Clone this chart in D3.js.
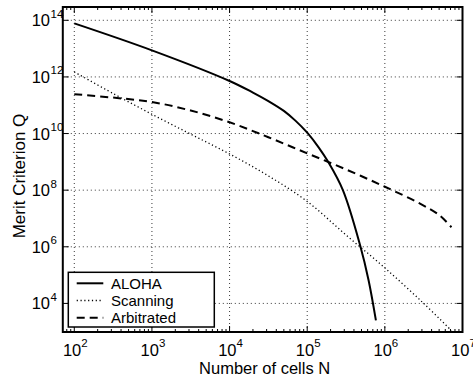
<!DOCTYPE html>
<html>
<head>
<meta charset="utf-8">
<script src="https://cdn.jsdelivr.net/npm/d3@7"></script>
<style>
  html, body { margin: 0; padding: 0; background: #fff; }
  svg { display: block; font-family: "Liberation Sans", Arial, Helvetica, sans-serif; }
</style>
</head>
<body>
<svg id="chart" width="473" height="377"></svg>
<script>
// Number of cells N and merit criterion Q for each scheme
const cellsAloha = [1e2, 1e3, 1e4, 2.0e4, 3.16e4, 5.0e4, 7.1e4, 1e5, 1.41e5, 1.86e5, 2.88e5, 4.79e5, 6.17e5, 7.67e5];
const meritAloha = [7.8e13, 8.7e12, 7.2e11, 2.8e11, 1.4e11, 6.3e10, 2.8e10, 1.07e10, 3.2e9, 1.0e9, 1.0e8, 1.15e6, 6.6e4, 2.5e3];

const cellsScanning = [1e2, 3.16e2, 1e3, 3.16e3, 1e4, 3.16e4, 1e5, 3.16e5, 1e6, 3.16e6, 7.2e6];
const meritScanning = [1.5e12, 2.6e11, 4.8e10, 9.5e9, 1.9e9, 3.2e8, 4.0e7, 2.6e6, 1.8e5, 1.0e4, 1.1e3];

const cellsArbitrated = [1e2, 3.16e2, 1e3, 3.16e3, 1e4, 3.16e4, 1e5, 3.16e5, 1e6, 2.8e6, 5.0e6, 7.2e6];
const meritArbitrated = [2.45e11, 1.86e11, 1.3e11, 6.5e10, 2.5e10, 7.4e9, 2.0e9, 5.4e8, 1.32e8, 3.4e7, 1.32e7, 4.9e6];

const seriesNames = ["ALOHA", "Scanning", "Arbitrated"];

// Axis ticks
const xTickExponents = [2, 3, 4, 5, 6, 7];
const yTickExponents = [4, 6, 8, 10, 12, 14];

const svg = d3.select("#chart");

const plotLeft = 62.8, plotRight = 462.5, plotTop = 7, plotBottom = 332;

const x = d3.scaleLog().domain([Math.pow(10, 1.852), 1e7]).range([plotLeft, plotRight]);
const y = d3.scaleLog().domain([Math.pow(10, 2.99), Math.pow(10, 14.47)]).range([plotBottom, plotTop]);

// grid
const grid = svg.append("g")
  .attr("stroke", "#222")
  .attr("stroke-width", 0.9)
  .attr("stroke-dasharray", "1,3");
xTickExponents.filter(e => e < 7).forEach(e => {
  const px = x(Math.pow(10, e));
  grid.append("line").attr("x1", px).attr("x2", px).attr("y1", plotTop).attr("y2", plotBottom);
});
yTickExponents.forEach(e => {
  const py = y(Math.pow(10, e));
  grid.append("line").attr("x1", plotLeft).attr("x2", plotRight).attr("y1", py).attr("y2", py);
});

// ticks (inward, both sides)
const ticks = svg.append("g").attr("stroke", "#000").attr("stroke-width", 1);
for (let e = 1; e < 7; e++) {
  for (let m = 1; m <= 9; m++) {
    const v = m * Math.pow(10, e);
    if (v < x.domain()[0] || v > x.domain()[1]) continue;
    const px = x(v);
    const len = m === 1 ? 6 : 3;
    ticks.append("line").attr("x1", px).attr("x2", px).attr("y1", plotBottom).attr("y2", plotBottom - len);
    ticks.append("line").attr("x1", px).attr("x2", px).attr("y1", plotTop).attr("y2", plotTop + len);
  }
}
yTickExponents.forEach(e => {
  const py = y(Math.pow(10, e));
  ticks.append("line").attr("x1", plotLeft).attr("x2", plotLeft + 6).attr("y1", py).attr("y2", py);
  ticks.append("line").attr("x1", plotRight).attr("x2", plotRight - 6).attr("y1", py).attr("y2", py);
});

// curves
const line = d3.line()
  .x(d => x(d[0]))
  .y(d => y(d[1]))
  .curve(d3.curveCatmullRom.alpha(0.5));

const curves = svg.append("g").attr("fill", "none").attr("stroke", "#000");
curves.append("path")
  .datum(d3.zip(cellsAloha, meritAloha))
  .attr("d", line)
  .attr("stroke-width", 2);
curves.append("path")
  .datum(d3.zip(cellsScanning, meritScanning))
  .attr("d", line)
  .attr("stroke-width", 1.3)
  .attr("stroke-dasharray", "1.2,2.6");
curves.append("path")
  .datum(d3.zip(cellsArbitrated, meritArbitrated))
  .attr("d", line)
  .attr("stroke-width", 2)
  .attr("stroke-dasharray", "8,5");

// frame
svg.append("rect")
  .attr("x", plotLeft).attr("y", plotTop)
  .attr("width", plotRight - plotLeft).attr("height", plotBottom - plotTop)
  .attr("fill", "none").attr("stroke", "#000").attr("stroke-width", 2);

// tick labels
const xl = svg.append("g").attr("font-size", 16.5).attr("fill", "#000");
xTickExponents.forEach(e => {
  const t = xl.append("text")
    .attr("x", x(Math.pow(10, e)) + 1)
    .attr("y", 356)
    .attr("text-anchor", "middle");
  t.append("tspan").text("10");
  t.append("tspan").attr("dy", -9).attr("font-size", 11.5).text(e);
});
const yl = svg.append("g").attr("font-size", 16.5).attr("fill", "#000");
yTickExponents.forEach(e => {
  const py = y(Math.pow(10, e));
  yl.append("text").attr("x", 50).attr("y", py + 6).attr("text-anchor", "end").text("10");
  yl.append("text").attr("x", 50.5).attr("y", py - 2.5).attr("font-size", 11.5).text(e);
});

// axis titles
svg.append("text")
  .attr("x", (plotLeft + plotRight) / 2 + 2)
  .attr("y", 374)
  .attr("text-anchor", "middle")
  .attr("font-size", 16.5)
  .text("Number of cells N");
svg.append("text")
  .attr("transform", "translate(25,176) rotate(-90)")
  .attr("text-anchor", "middle")
  .attr("font-size", 17)
  .text("Merit Criterion Q");

// legend
const lg = svg.append("g");
lg.append("rect")
  .attr("x", 68.3).attr("y", 272.3).attr("width", 146).attr("height", 54.7)
  .attr("fill", "#fff").attr("stroke", "#000").attr("stroke-width", 1.5);
const legendStyles = [
  { w: 2, dash: null },
  { w: 1.3, dash: "1.2,2.6" },
  { w: 2, dash: "8,5" }
];
seriesNames.forEach((name, i) => {
  const cy = 283.3 + i * 17.2;
  const l = lg.append("line")
    .attr("x1", 76.7).attr("x2", 103.3).attr("y1", cy).attr("y2", cy)
    .attr("stroke", "#000").attr("stroke-width", legendStyles[i].w);
  if (legendStyles[i].dash) l.attr("stroke-dasharray", legendStyles[i].dash);
  lg.append("text").attr("x", 111).attr("y", cy + 5.3).attr("font-size", 15).text(name);
});
</script>
</body>
</html>
